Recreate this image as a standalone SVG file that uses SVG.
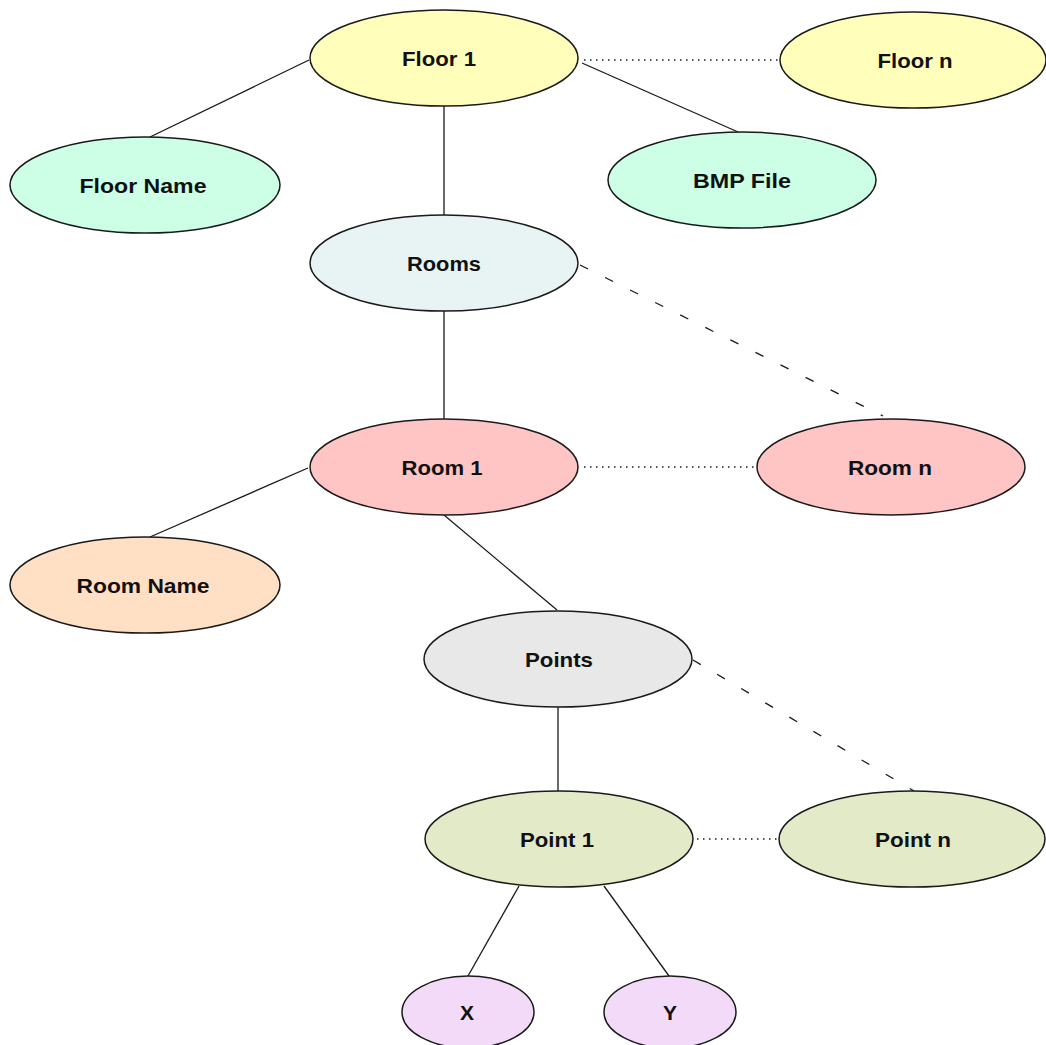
<svg xmlns="http://www.w3.org/2000/svg" width="1046" height="1045" viewBox="0 0 1046 1045">
<style>
.n ellipse{stroke:#1a1a1a;stroke-width:1.5}
.n text{font-family:"Liberation Sans",Arial,sans-serif;font-weight:bold;font-size:21px;fill:#111;text-anchor:middle}
.e line{stroke:#1a1a1a;stroke-width:1.3;fill:none}
.e .dot{stroke-dasharray:1.5 4.5}
.e .dash{stroke-dasharray:9 19}
.yel{fill:#FFFFBB}.mint{fill:#CCFFE6}.rooms{fill:#E8F3F3}.pink{fill:#FFC4C4}.peach{fill:#FFE0C4}.grey{fill:#E8E8E8}.olive{fill:#E2EAC8}.lilac{fill:#F2DAF8}
</style>
<rect width="1046" height="1045" fill="#fff"/>
<g id="connectors" class="e">
<line x1="309" y1="60" x2="150" y2="137"/>
<line x1="444" y1="106" x2="444" y2="215"/>
<line x1="582" y1="63" x2="738" y2="132"/>
<line class="dot" x1="584" y1="60" x2="780" y2="60"/>
<line class="dash" x1="580" y1="265" x2="883" y2="416"/>
<line x1="444" y1="311" x2="444" y2="419"/>
<line x1="308" y1="468" x2="150" y2="537"/>
<line class="dot" x1="584" y1="467" x2="757" y2="467"/>
<line x1="444" y1="515" x2="557" y2="610"/>
<line x1="558" y1="707" x2="558" y2="791"/>
<line class="dash" x1="693" y1="660" x2="914" y2="791"/>
<line class="dot" x1="697" y1="839" x2="779" y2="839"/>
<line x1="519" y1="886" x2="468" y2="976"/>
<line x1="604" y1="886" x2="669" y2="976"/>
</g>
<g id="floor1" class="n"><ellipse class="yel" cx="444" cy="58" rx="134" ry="48"/><text x="439" y="66" textLength="74" lengthAdjust="spacingAndGlyphs">Floor 1</text></g>
<g id="floorn" class="n"><ellipse class="yel" cx="913" cy="60" rx="133" ry="48"/><text x="915" y="68" textLength="75" lengthAdjust="spacingAndGlyphs">Floor n</text></g>
<g id="floorname" class="n"><ellipse class="mint" cx="145" cy="185" rx="135" ry="48"/><text x="143" y="193" textLength="127" lengthAdjust="spacingAndGlyphs">Floor Name</text></g>
<g id="bmpfile" class="n"><ellipse class="mint" cx="742" cy="180" rx="134" ry="48"/><text x="742" y="188" textLength="98" lengthAdjust="spacingAndGlyphs">BMP File</text></g>
<g id="rooms" class="n"><ellipse class="rooms" cx="444" cy="263" rx="134" ry="48"/><text x="444" y="271" textLength="74" lengthAdjust="spacingAndGlyphs">Rooms</text></g>
<g id="room1" class="n"><ellipse class="pink" cx="444" cy="467" rx="134" ry="48"/><text x="442" y="475" textLength="81" lengthAdjust="spacingAndGlyphs">Room 1</text></g>
<g id="roomn" class="n"><ellipse class="pink" cx="891" cy="467" rx="134" ry="48"/><text x="890" y="475" textLength="84" lengthAdjust="spacingAndGlyphs">Room n</text></g>
<g id="roomname" class="n"><ellipse class="peach" cx="145" cy="585" rx="135" ry="48"/><text x="143" y="593" textLength="133" lengthAdjust="spacingAndGlyphs">Room Name</text></g>
<g id="points" class="n"><ellipse class="grey" cx="558" cy="659" rx="134" ry="48"/><text x="559" y="667" textLength="68" lengthAdjust="spacingAndGlyphs">Points</text></g>
<g id="point1" class="n"><ellipse class="olive" cx="559" cy="839" rx="134" ry="48"/><text x="557" y="847" textLength="74" lengthAdjust="spacingAndGlyphs">Point 1</text></g>
<g id="pointn" class="n"><ellipse class="olive" cx="912" cy="839" rx="133" ry="48"/><text x="913" y="847" textLength="76" lengthAdjust="spacingAndGlyphs">Point n</text></g>
<g id="x" class="n"><ellipse class="lilac" cx="468" cy="1012" rx="66" ry="36"/><text x="467" y="1020">X</text></g>
<g id="y" class="n"><ellipse class="lilac" cx="670" cy="1012" rx="66" ry="36"/><text x="670" y="1020">Y</text></g>
</svg>
